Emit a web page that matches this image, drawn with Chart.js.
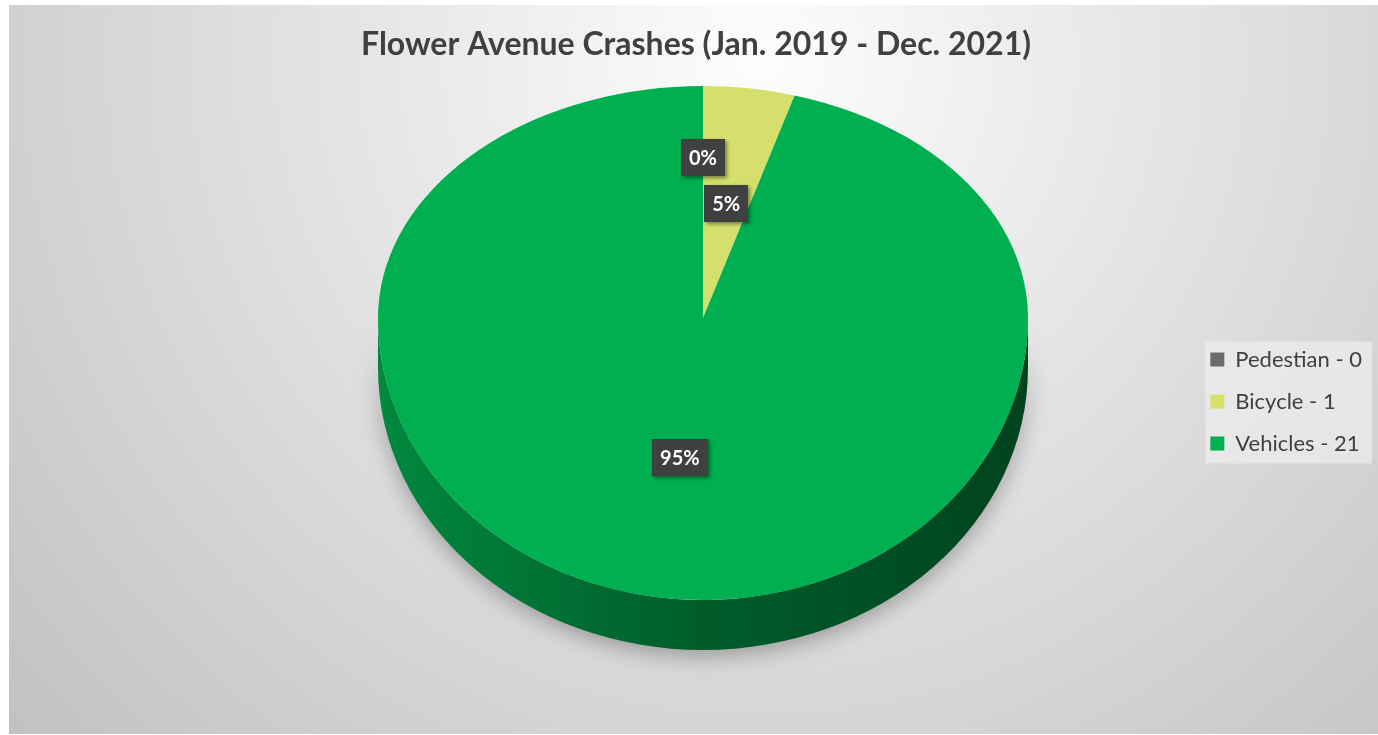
<!DOCTYPE html>
<html>
<head>
<meta charset="utf-8">
<script src="https://cdn.jsdelivr.net/npm/chart.js@4.4.1/dist/chart.umd.min.js"></script>
<style>
  html,body{margin:0;padding:0;background:#fff;overflow:hidden}
  #wrap{width:1378px;height:735px}
</style>
</head>
<body>
<div id="wrap"><canvas id="chart"></canvas></div>
<script>
/* ---------------- data ---------------- */
const categories  = ['Pedestian', 'Bicycle', 'Vehicles'];
const crashes     = [0, 1, 21];
const sliceColors = ['#6b6b6b', '#d5e06c', '#00b050'];
const chartTitle  = 'Flower Avenue Crashes (Jan. 2019 - Dec. 2021)';

/* ---------------- 3d pie look ---------------- */
const PIE = {cx:703, cy:318, r:325, kBack:232/325, kFront:282/325, depth:50};
const FONT = 'Lato, "Open Sans", sans-serif';
const LEGEND_SHIFT = 33;   // excel puts the legend a bit below middle

const shade = (hex, f) => {
  const n = parseInt(hex.slice(1), 16);
  const c = [n>>16 & 255, n>>8 & 255, n & 255].map(v => Math.round(v*f));
  return `rgb(${c.join(',')})`;
};

// map an angle/radius on the pie to screen, back half flatter than front half
function piePoint(angle, rr){
  const s = Math.sin(angle);
  const k = s < 0 ? PIE.kBack : PIE.kFront;
  return {x: PIE.cx + rr*Math.cos(angle), y: PIE.cy + k*rr*s};
}

const bgPlugin = {
  id:'bg',
  afterLayout(chart){
    const lg = chart.legend;
    if (!lg) return;
    lg.top += LEGEND_SHIFT;
    lg.bottom += LEGEND_SHIFT;
    (lg.legendHitBoxes || []).forEach(h => { h.top += LEGEND_SHIFT; });
  },
  beforeDraw(chart){
    const {ctx, width, height} = chart;
    ctx.save();
    ctx.fillStyle = '#fff';
    ctx.fillRect(0, 0, width, height);
    const g = ctx.createRadialGradient(760, 60, 0, 760, 60, 1010);
    g.addColorStop(0, '#fdfdfd');
    g.addColorStop(1, '#c1c1c1');
    ctx.fillStyle = g;
    ctx.fillRect(9, 5, width - 9, height - 6);
    // legend panel
    const hb = chart.legend && chart.legend.legendHitBoxes;
    if (hb && hb.length){
      const l = Math.min(...hb.map(h => h.left)) - 5;
      const t = Math.min(...hb.map(h => h.top)) - 7;
      const b = Math.max(...hb.map(h => h.top + h.height)) + 9;
      const r = width - 6;
      ctx.fillStyle = 'rgba(236,236,236,0.75)';
      ctx.fillRect(l, t, r - l, b - t);
    }
    ctx.restore();
  }
};

const pie3d = {
  id:'pie3d',
  beforeDatasetsDraw(chart){
    const ctx = chart.ctx;
    const meta = chart.getDatasetMeta(0);
    const arcs = meta.data;
    const ry = PIE.r*PIE.kFront;

    // side wall, only the front half shows
    arcs.forEach((a, i) => {
      for (const off of [-2*Math.PI, 0, 2*Math.PI]){
        const s = Math.max(a.startAngle, off), e = Math.min(a.endAngle, off + Math.PI);
        if (e <= s) continue;
        const g = ctx.createLinearGradient(PIE.cx - PIE.r, 0, PIE.cx + PIE.r, 0);
        g.addColorStop(0, shade(sliceColors[i], 0.78));
        g.addColorStop(0.5, shade(sliceColors[i], 0.52));
        g.addColorStop(1, shade(sliceColors[i], 0.38));
        ctx.save();
        ctx.beginPath();
        ctx.ellipse(PIE.cx, PIE.cy, PIE.r, ry, 0, s - off, e - off);
        ctx.ellipse(PIE.cx, PIE.cy + PIE.depth, PIE.r, ry, 0, e - off, s - off, true);
        ctx.closePath();
        ctx.shadowColor = 'rgba(0,0,0,0.30)';
        ctx.shadowBlur = 22;
        ctx.shadowOffsetY = 6;
        ctx.fillStyle = g;
        ctx.fill();
        ctx.restore();
      }
    });

    // top face: library arcs, squashed (back half / front half)
    const x0 = arcs[0].x, y0 = arcs[0].y;
    [[PIE.kBack, 0, PIE.cy + 0.5], [PIE.kFront, PIE.cy - 0.5, chart.height]].forEach(([k, top, bot]) => {
      ctx.save();
      ctx.beginPath();
      ctx.rect(0, top, chart.width, bot - top);
      ctx.clip();
      ctx.translate(PIE.cx, PIE.cy);
      ctx.scale(1, k);
      ctx.translate(-x0, -y0);
      meta.controller.draw();
      ctx.restore();
    });
    return false;
  }
};

const pctLabels = {
  id:'pctLabels',
  afterDraw(chart){
    const ctx = chart.ctx;
    const arcs = chart.getDatasetMeta(0).data;
    const total = crashes.reduce((s, v) => s + v, 0);
    const order = crashes.map((v, i) => i).sort((a, b) => crashes[b] - crashes[a]);
    const placed = [];
    ctx.save();
    ctx.font = `bold 20px ${FONT}`;
    ctx.textAlign = 'center';
    ctx.textBaseline = 'middle';
    order.forEach(i => {
      const a = arcs[i];
      const mid = (a.startAngle + a.endAngle)/2;
      const txt = Math.round(crashes[i]/total*100) + '%';
      const w = ctx.measureText(txt).width + 16, h = 37;
      let rr = PIE.r*0.5, p;
      const hit = q => placed.some(o => Math.abs(o.x - q.x) < (o.w + w)/2 + 4 && Math.abs(o.y - q.y) < (o.h + h)/2 + 8);
      do { p = piePoint(mid, rr); rr += 2; } while (hit(p) && rr < PIE.r*1.2);
      placed.push({x:p.x, y:p.y, w, h});
      ctx.save();
      ctx.shadowColor = 'rgba(0,0,0,0.45)';
      ctx.shadowBlur = 4;
      ctx.shadowOffsetX = 2;
      ctx.shadowOffsetY = 2;
      ctx.fillStyle = '#404040';
      ctx.fillRect(Math.round(p.x - w/2), Math.round(p.y - h/2), Math.round(w), h);
      ctx.restore();
      ctx.fillStyle = '#fff';
      ctx.fillText(txt, p.x, p.y + 1);
    });
    ctx.restore();
  }
};

/* ---------------- chart ---------------- */
const baseLabels = Chart.overrides.pie.plugins.legend.labels.generateLabels;

new Chart(document.getElementById('chart'), {
  type:'pie',
  data:{
    labels:categories,
    datasets:[{data:crashes, backgroundColor:sliceColors, borderWidth:0, radius:PIE.r}]
  },
  options:{
    responsive:true,
    maintainAspectRatio:false,
    animation:false,
    events:[],
    layout:{padding:{left:20, right:6, top:6, bottom:4}},
    plugins:{
      title:{
        display:true, text:chartTitle, color:'#404040',
        font:{family:FONT, size:32, weight:'bold'},
        padding:{top:19, bottom:10}
      },
      legend:{
        position:'right',
        labels:{
          color:'#404040',
          font:{family:FONT, size:22},
          boxWidth:14, boxHeight:14,
          padding:20,
          generateLabels(chart){
            return baseLabels(chart).map((l, i) => ({...l, text:`${categories[i]} - ${crashes[i]}`, hidden:false, lineWidth:0}));
          }
        }
      },
      tooltip:{enabled:false}
    }
  },
  plugins:[bgPlugin, pie3d, pctLabels]
});
</script>
</body>
</html>
